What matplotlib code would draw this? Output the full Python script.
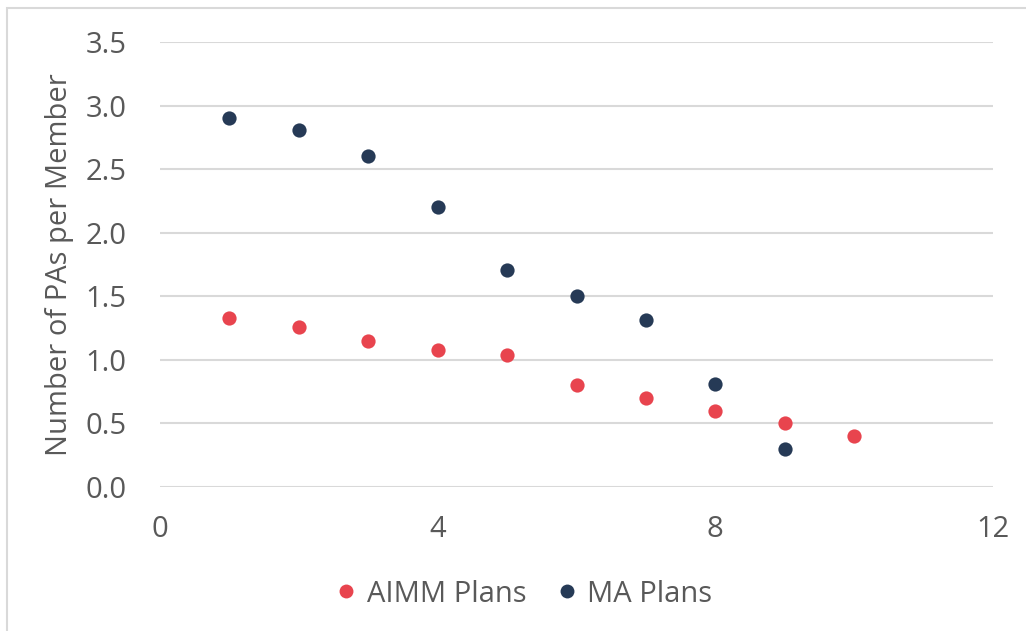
import matplotlib
matplotlib.use("Agg")
import matplotlib.pyplot as plt
from matplotlib.patches import Rectangle
from matplotlib.lines import Line2D

# Plan rank along x, PAs per member along y
aimm_x = [1, 2, 3, 4, 5, 6, 7, 8, 9, 10]
aimm_y = [1.33, 1.26, 1.15, 1.08, 1.04, 0.80, 0.70, 0.60, 0.50, 0.40]
ma_x = [1, 2, 3, 4, 5, 6, 7, 8, 9]
ma_y = [2.90, 2.81, 2.60, 2.20, 1.71, 1.50, 1.31, 0.81, 0.30]

x_ticks = [0, 4, 8, 12]
y_ticks = [0.0, 0.5, 1.0, 1.5, 2.0, 2.5, 3.0, 3.5]

series_names = ["AIMM Plans", "MA Plans"]
aimm_color = "#E8444E"
ma_color = "#263A56"
text_color = "#595959"
grid_color = "#D9D9D9"

plt.rcParams["font.family"] = ["Open Sans", "DejaVu Sans"]

W, H = 1026, 631
fig = plt.figure(figsize=(W / 100, H / 100), dpi=100)

# Chart-area border
fig.patches.append(Rectangle((7 / W, -0.01), 1.1, 1 - 8 / H + 0.01,
                             transform=fig.transFigure, fill=False,
                             edgecolor="#D9D9D9", linewidth=1.5))

ax = fig.add_axes([160 / W, 1 - 487 / H, (993 - 160) / W, (487 - 42) / H])
ax.set_xlim(0, 12)
ax.set_ylim(0, 3.5)
ax.set_xticks(x_ticks)
ax.set_yticks(y_ticks)
ax.set_yticklabels([f"{v:.1f}" for v in y_ticks])

for y in y_ticks:
    ax.axhline(y, color=grid_color, linewidth=1.5, zorder=1)

ax.scatter(aimm_x, aimm_y, s=105, color=aimm_color, zorder=3, linewidths=0)
ax.scatter(ma_x, ma_y, s=105, color=ma_color, zorder=3, linewidths=0)

for s in ax.spines.values():
    s.set_visible(False)
ax.tick_params(length=0, labelsize=21, colors=text_color)
ax.tick_params(axis="x", pad=20)
ax.tick_params(axis="y", pad=24)
ax.set_ylabel("Number of PAs per Member", fontsize=21, color=text_color, labelpad=8)

handles = [Line2D([], [], marker="o", linestyle="none", markersize=10,
                  markerfacecolor=c, markeredgewidth=0)
           for c in (aimm_color, ma_color)]
fig.legend(handles, series_names, loc="center", bbox_to_anchor=(522 / W, 1 - 594 / H),
           ncol=2, frameon=False, fontsize=21, labelcolor=text_color,
           handletextpad=0.2, columnspacing=0.9, handlelength=1.0)

fig.savefig("out.png", dpi=100)
